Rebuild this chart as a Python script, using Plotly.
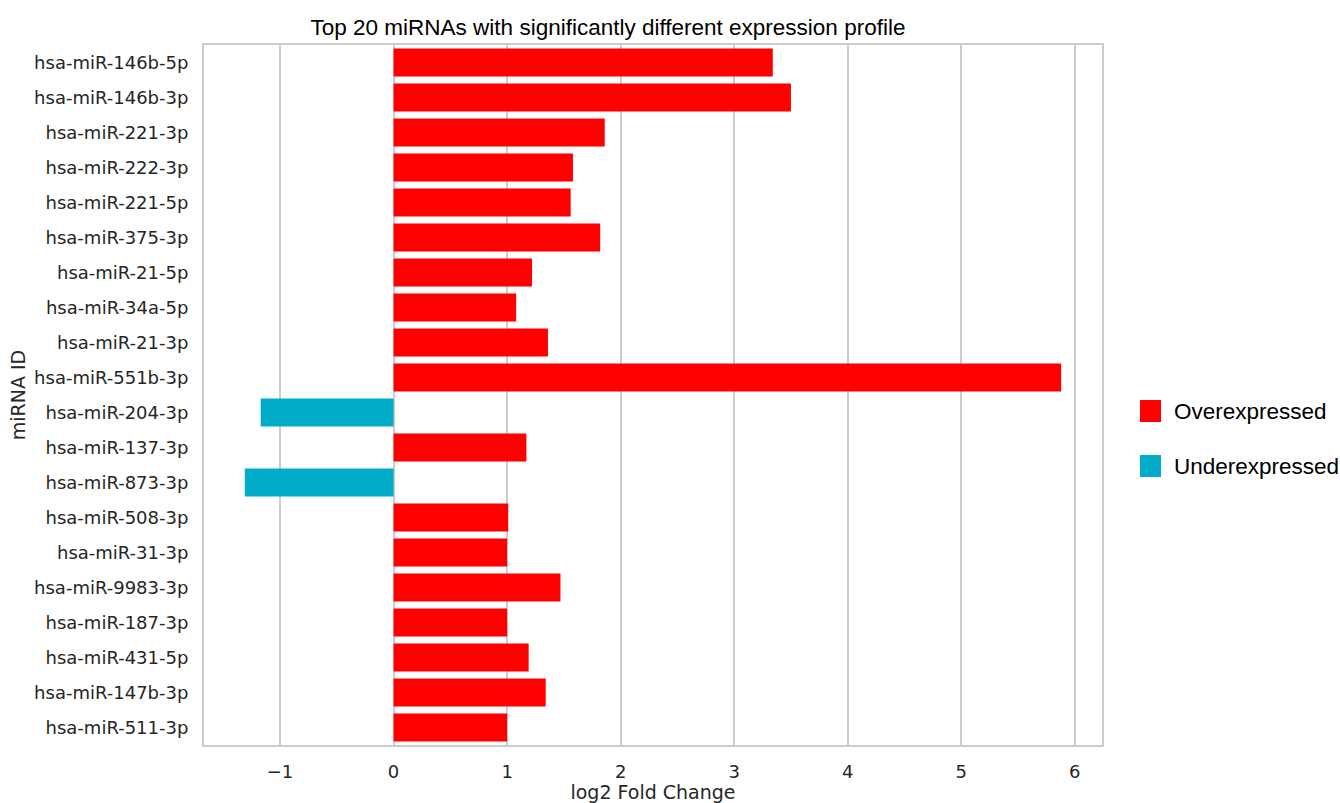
import plotly.graph_objects as go

# miRNA identifiers, top to bottom
mirnas = [
    "hsa-miR-146b-5p", "hsa-miR-146b-3p", "hsa-miR-221-3p", "hsa-miR-222-3p",
    "hsa-miR-221-5p", "hsa-miR-375-3p", "hsa-miR-21-5p", "hsa-miR-34a-5p",
    "hsa-miR-21-3p", "hsa-miR-551b-3p", "hsa-miR-204-3p", "hsa-miR-137-3p",
    "hsa-miR-873-3p", "hsa-miR-508-3p", "hsa-miR-31-3p", "hsa-miR-9983-3p",
    "hsa-miR-187-3p", "hsa-miR-431-5p", "hsa-miR-147b-3p", "hsa-miR-511-3p",
]
# log2 fold change per miRNA
log2_fc = [
    3.34, 3.50, 1.86, 1.58,
    1.56, 1.82, 1.22, 1.08,
    1.36, 5.88, -1.17, 1.17,
    -1.31, 1.01, 1.00, 1.47,
    1.00, 1.19, 1.34, 1.00,
]
x_ticks = [-1, 0, 1, 2, 3, 4, 5, 6]

RED = "#ff0000"
CYAN = "#00acc7"
TXT = "#262626"
GRID = "#cccccc"

up_y = [m for m, v in zip(mirnas, log2_fc) if v > 0]
up_x = [v for v in log2_fc if v > 0]
dn_y = [m for m, v in zip(mirnas, log2_fc) if v <= 0]
dn_x = [v for v in log2_fc if v <= 0]

fig = go.Figure()
fig.add_trace(go.Bar(x=up_x, y=up_y, orientation="h", name="Overexpressed",
                     marker=dict(color=RED, line=dict(width=0)), showlegend=False))
fig.add_trace(go.Bar(x=dn_x, y=dn_y, orientation="h", name="Underexpressed",
                     marker=dict(color=CYAN, line=dict(width=0)), showlegend=False))

lo, hi = min(log2_fc), max(log2_fc)
pad = 0.05 * (hi - lo)

fig.update_layout(
    width=1340, height=803,
    margin=dict(l=204, r=238, t=45, b=58),
    paper_bgcolor="white", plot_bgcolor="white",
    barmode="overlay", bargap=0.2,
    font=dict(family="DejaVu Sans", size=18, color=TXT),
    title=dict(text="Top 20 miRNAs with significantly different expression profile",
               x=608 / 1340, xref="container", xanchor="center",
               y=1 - 27 / 803, yref="container", yanchor="middle",
               font=dict(family="Liberation Sans, Arial", size=22.5, color="black")),
    xaxis=dict(range=[lo - pad, hi + pad], tickvals=x_ticks, automargin=False,
               showgrid=True, gridcolor=GRID, gridwidth=2, zeroline=False,
               showline=True, linecolor=GRID, linewidth=2, mirror=True,
               ticks="", ticklabelstandoff=9,
               tickfont=dict(size=18),
               title=dict(text="log2 Fold Change", standoff=6,
                          font=dict(family="DejaVu Sans", size=19, color=TXT))),
    yaxis=dict(categoryorder="array", categoryarray=mirnas, automargin=False,
               range=[len(mirnas) - 0.5, -0.5],
               showgrid=False, zeroline=False,
               showline=True, linecolor=GRID, linewidth=2, mirror=True,
               ticks="", ticklabelstandoff=10,
               tickfont=dict(size=18),
               title=dict(text="miRNA ID", standoff=3,
                          font=dict(family="DejaVu Sans", size=19, color=TXT))),
)

# legend drawn as swatches with labels to the right of the axes
px_w, px_h = 898.0, 700.0
def px_x(p):
    return (p - 204) / px_w
def px_y(p):
    return (745 - p) / px_h

for name, col, top in [("Overexpressed", RED, 400), ("Underexpressed", CYAN, 455)]:
    fig.add_shape(type="rect", xref="paper", yref="paper",
                  x0=px_x(1140), x1=px_x(1161), y0=px_y(top + 22), y1=px_y(top),
                  fillcolor=col, line=dict(width=0))
    fig.add_annotation(text=name, xref="paper", yref="paper",
                       x=px_x(1172), y=px_y(top + 11), xanchor="left", yanchor="middle",
                       showarrow=False,
                       font=dict(family="Liberation Sans, Arial", size=22.5, color="black"))

fig.write_html("out.html")
